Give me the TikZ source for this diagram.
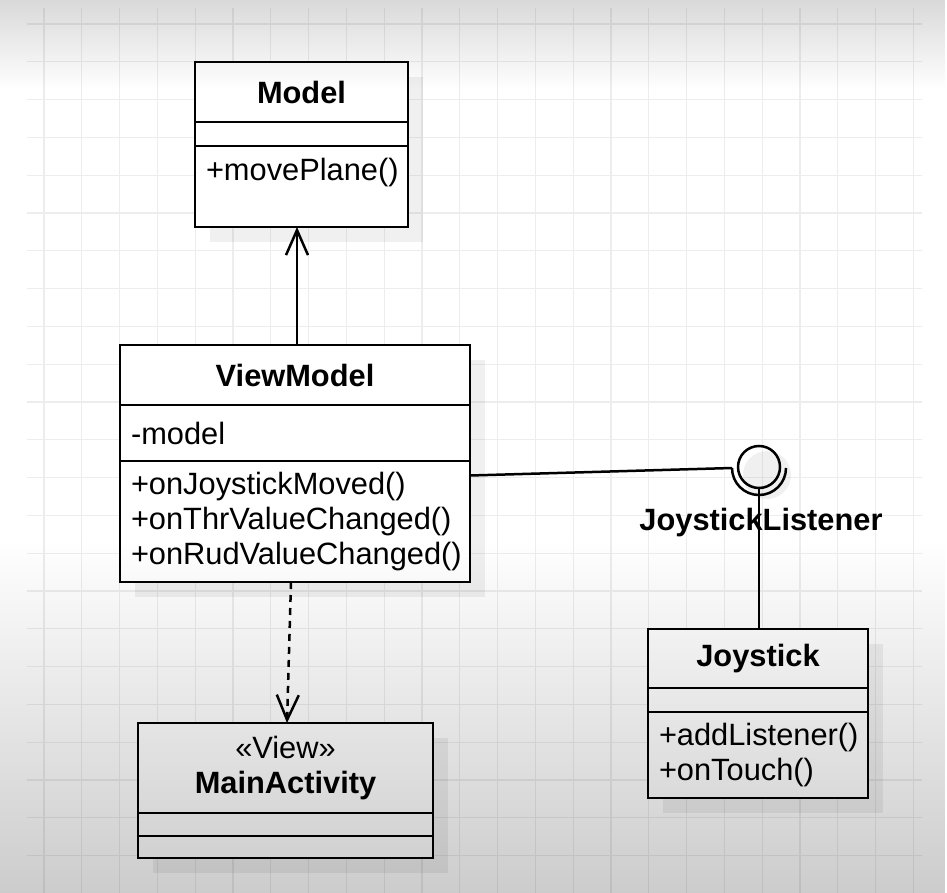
\documentclass[tikz,border=0pt]{standalone}
\usepackage{fontspec}
\setmainfont{Liberation Sans}
\usetikzlibrary{positioning,arrows.meta,backgrounds,fadings}

\newcommand{\umlsize}{\fontsize{30.8}{35}\selectfont}
\tikzfading[name=fadetop, top color=transparent!0, bottom color=transparent!100]
\tikzfading[name=fadebottom, top color=transparent!100, bottom color=transparent!0]

\tikzset{
    classhead/.style={draw, line width=2.6pt, fill=white, outer sep=0pt, inner sep=0pt, align=center, font=\umlsize\bfseries},
    classpart/.style={draw, line width=2.6pt, fill=white, outer sep=0pt, inner xsep=11pt, inner ysep=0pt, align=left, font=\umlsize},
    classshadow/.style={fill=black, fill opacity=0.06},
    assoc/.style={line width=2.5pt, -{Straight Barb[length=25pt, width=22pt, line width=2.5pt]}},
    depend/.style={assoc, dash pattern=on 7pt off 6pt},
    gridline/.style={black!7, line width=1.3pt},
}

\begin{document}
\begin{tikzpicture}[x=1pt, y=-1pt]
    \useasboundingbox (0,0) rectangle (947,893);
    % Model
    \node[classhead, minimum width=213pt, minimum height=60pt] (modelhead) at (301.5,92) {Model};
    \node[classpart, below=0pt of modelhead, text width=191pt, minimum height=24pt] (modelattr) {};
    \node[classpart, below=0pt of modelattr, text width=191pt, minimum height=81pt] (modelops) {+movePlane()\\~};
    % ViewModel
    \node[classhead, minimum width=350pt, minimum height=60pt] (vmhead) at (295,375) {ViewModel};
    \node[classpart, below=0pt of vmhead, text width=328pt, minimum height=56pt] (vmattr) {-model};
    \node[classpart, below=0pt of vmattr, text width=328pt, minimum height=121pt] (vmops) {+onJoystickMoved()\\+onThrValueChanged()\\+onRudValueChanged()};
    % MainActivity
    \node[classhead, minimum width=295pt, minimum height=90pt] (mahead) at (285.5,768) {{\mdseries «View»}\\MainActivity};
    \node[classpart, below=0pt of mahead, text width=273pt, minimum height=23pt] (maattr) {};
    \node[classpart, below=0pt of maattr, text width=273pt, minimum height=22pt] (maops) {};
    % Joystick
    \node[classhead, minimum width=220pt, minimum height=59pt] (jshead) at (758,658.5) {Joystick};
    \node[classpart, below=0pt of jshead, text width=198pt, minimum height=24pt] (jsattr) {};
    \node[classpart, below=0pt of jsattr, text width=198pt, minimum height=86pt] (jsops) {+addListener()\\+onTouch()};
    % interface
    \node[draw, circle, line width=2.5pt, minimum size=42pt, inner sep=0pt, outer sep=0pt] (iface) at (759,467) {};
    \node[font=\umlsize\bfseries] (ifacelabel) at (761,523) {JoystickListener};
    \coordinate (sockleft) at (732,468);

    \draw[assoc] ([xshift=2pt]vmhead.north) -- ([xshift=2pt]vmhead.north |- modelops.south);
    \draw[depend] ([xshift=-4pt]vmops.south) -- ([xshift=1.5pt]mahead.north);
    \draw[line width=2.5pt] (sockleft) arc[start angle=180, end angle=0, radius=27];
    \draw[line width=2.5pt] ([yshift=46pt]vmops.east) -- (sockleft);
    \draw[line width=2.5pt] (iface.south) -- (iface.south |- jshead.north);

    \begin{scope}[on background layer]
        \fill[white] (0,0) rectangle (947,893);
        \foreach \gx in {0,...,23}
            \draw[gridline] ({44+37.8*\gx},8) -- ({44+37.8*\gx},893);
        \foreach \gy in {0,...,23}
            \draw[gridline] (27,{24+37.8*\gy}) -- (922,{24+37.8*\gy});
        \fill[classshadow] ([shift={(15pt,-15pt)}]modelhead.north west) rectangle ([shift={(15pt,-15pt)}]modelops.south east);
        \fill[classshadow] ([shift={(15pt,-15pt)}]vmhead.north west) rectangle ([shift={(15pt,-15pt)}]vmops.south east);
        \fill[classshadow] ([shift={(15pt,-15pt)}]mahead.north west) rectangle ([shift={(15pt,-15pt)}]maops.south east);
        \fill[classshadow] ([shift={(15pt,-15pt)}]jshead.north west) rectangle ([shift={(15pt,-15pt)}]jsops.south east);
        \fill[classshadow] ([shift={(8pt,-8pt)}]iface.center) circle (24pt);
    \end{scope}

    % screen shading
    \fill[black, path fading=fadetop, fill opacity=0.15] (0,0) rectangle (947,90);
    \fill[black, path fading=fadebottom, fill opacity=0.2] (0,540) rectangle (947,893);
\end{tikzpicture}
\end{document}
